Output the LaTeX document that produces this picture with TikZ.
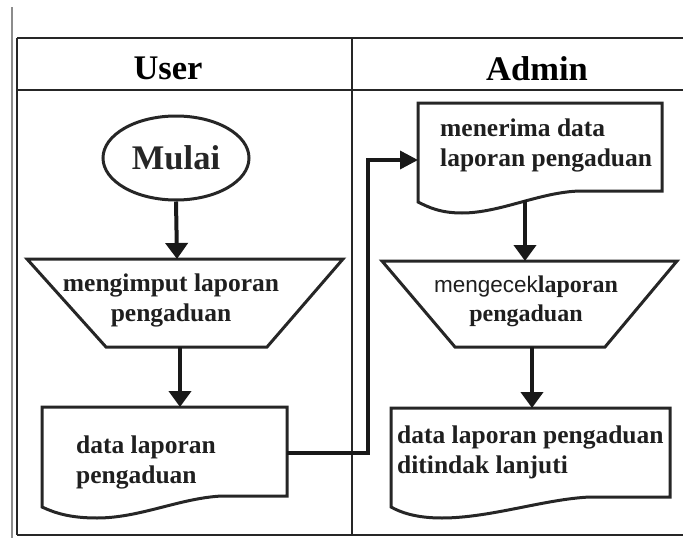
\documentclass[tikz,border=0pt]{standalone}
\usepackage{fontspec}
\setmainfont{Liberation Serif}
\newfontfamily\arialfont{Liberation Sans}
\usetikzlibrary{arrows.meta,shapes.geometric}

\begin{document}
\begin{tikzpicture}[x=1pt,y=-1pt,
  frame/.style={line width=2.5pt,black!85},
  shapeline/.style={line width=3pt,black!85,line join=miter},
  flow/.style={line width=4pt,black!90,-{Triangle[width=22pt,length=16pt]}},
  link/.style={line width=3.5pt,black!90,-{Triangle[width=18pt,length=18pt]}},
  head/.style={font=\fontsize{34.5}{40}\selectfont\bfseries,inner sep=0pt,anchor=base},
  body/.style={font=\fontsize{25.5}{30}\selectfont\bfseries,inner sep=0pt,text=black!88}]
\useasboundingbox (0,0) rectangle (683,538);

% page margin rule
\draw[line width=2pt,black!45] (12,7) -- (12,538);

% swimlane frame
\draw[frame] (17,38) -- (683,38);
\draw[frame] (17,90) -- (683,90);
\draw[frame] (17,38) -- (17,535);
\draw[frame] (352,38) -- (352,535);
\draw[frame] (17,535) -- (683,535);
\node[head] (userhead) at (168,79) {User};
\node[head] (adminhead) at (537,80) {Admin};

% ---- User lane ----
\node[ellipse,draw,shapeline,minimum width=146pt,minimum height=84pt,inner sep=0pt,
      font=\fontsize{34.5}{40}\selectfont\bfseries] (mulai) at (176,158) {Mulai};

\draw[shapeline] (27,259) -- (343,259) -- (267,347) -- (106,347) -- cycle;
\coordinate (in1top) at (177,259);
\coordinate (in1bot) at (180,347);
\node[body,align=center] (in1text) at (171,300) {mengimput laporan\\pengaduan};

\draw[shapeline] (42,407) -- (287,407) -- (287,496) -- (222,496)
  .. controls (180,498) and (140,518) .. (97,518)
  .. controls (70,518) and (55,513) .. (42,507) -- cycle;
\coordinate (doc1top) at (180,407);
\coordinate (doc1out) at (287,453);
\node[body,align=left,anchor=west] (doc1text) at (76,462) {data laporan\\pengaduan};

% ---- Admin lane ----
\draw[shapeline] (418,103) -- (662,103) -- (662,191) -- (580,191)
  .. controls (540,192) and (500,213) .. (462,213)
  .. controls (440,213) and (428,207) .. (418,202) -- cycle;
\coordinate (doc2in) at (418,160);
\coordinate (doc2bot) at (525,200);
\node[body,align=left,anchor=west] (doc2text) at (440,145) {menerima data\\laporan pengaduan};

\draw[shapeline] (382,261) -- (677,261) -- (605,347) -- (455,347) -- cycle;
\coordinate (in2top) at (525,261);
\coordinate (in2bot) at (532,347);
\node[body,align=center,font=\fontsize{24}{29}\selectfont\bfseries] (in2text) at (526,301)
  {{\arialfont\mdseries\fontsize{22.5}{29}\selectfont mengecek}laporan\\pengaduan};

\draw[shapeline] (391,408) -- (670,408) -- (670,497) -- (590,497)
  .. controls (545,499) and (490,518) .. (442,518)
  .. controls (415,518) and (400,512) .. (391,507) -- cycle;
\coordinate (doc3top) at (532,408);
\node[body,align=left,anchor=west] (doc3text) at (397,452) {data laporan pengaduan\\ditindak lanjuti};

% ---- flow ----
\coordinate (elbow) at (368,160);
\draw[flow] (mulai.south) -- (in1top);
\draw[flow] (in1bot) -- (doc1top);
\draw[link] (doc1out) -| (elbow) -- (doc2in);
\draw[flow] (doc2bot) -- (in2top);
\draw[flow] (in2bot) -- (doc3top);
\end{tikzpicture}
\end{document}
